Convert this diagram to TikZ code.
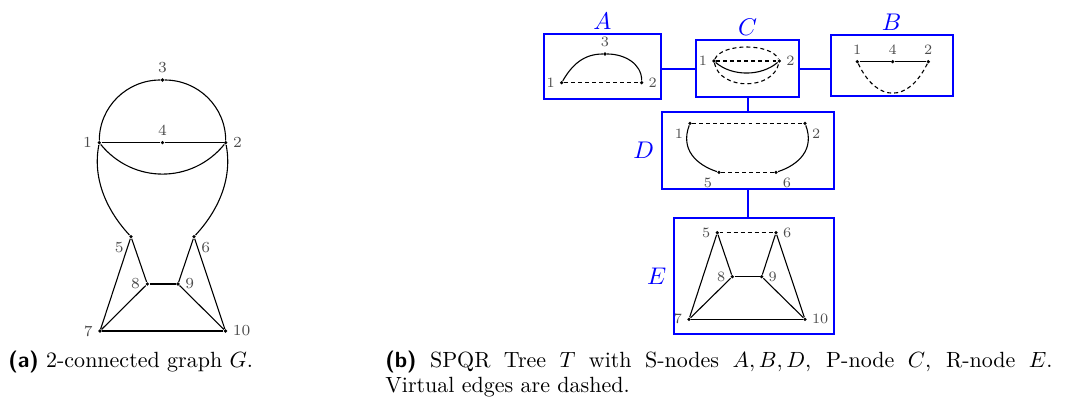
\documentclass[tikz,border=0pt]{standalone}
\usetikzlibrary{fit}
\begin{document}
\begin{tikzpicture}[x=0.4545pt,y=-0.4545pt,
  dot/.style={circle,fill=black,inner sep=0pt,minimum size=1.6pt},
  lbl/.style={text=black!70,font=\fontsize{7}{8}\selectfont,inner sep=2.2pt},
  lblr/.style={text=black!70,font=\fontsize{6.5}{8}\selectfont,inner sep=2pt},
  edge/.style={line width=0.5pt},
  virt/.style={line width=0.5pt,dash pattern=on 1.8pt off 1.4pt},
  box/.style={draw=blue,line width=1pt,inner sep=0pt},
  conn/.style={draw=blue,line width=1pt},
  blbl/.style={text=blue,font=\fontsize{11}{13}\selectfont,inner sep=1.5pt},
  blblside/.style={text=blue,font=\fontsize{11}{13}\selectfont,inner sep=2.8pt},
  captxt/.style={anchor=base west,inner sep=0pt,font=\fontsize{10}{12}\selectfont}
]
\useasboundingbox (0,0) rectangle (1070,397);

% ---------- (a) graph G ----------
\node[dot,label={[lbl]above:3}] (g3) at (162.5,80) {};
\node[dot,label={[lbl]left:1}] (g1) at (99.3,142.7) {};
\node[dot,label={[lbl]above:4}] (g4) at (162.5,142.7) {};
\node[dot,label={[lbl]right:2}] (g2) at (225.7,142.7) {};
\node[dot,label={[lbl]195:5}] (g5) at (131,236.7) {};
\node[dot,label={[lbl]-15:6}] (g6) at (194,236.7) {};
\node[dot,label={[lbl]left:8}] (g8) at (147.3,284) {};
\node[dot,label={[lbl]right:9}] (g9) at (178,284) {};
\node[dot,label={[lbl]left:7}] (g7) at (100,331) {};
\node[dot,label={[lbl]right:10}] (g10) at (225.5,331) {};

\draw[edge] (g1) to[out=90,in=180] (g3) to[out=0,in=90] (g2);
\draw[edge] (g1) -- (g4) -- (g2);
\draw[edge] (g1) .. controls (133,184) and (192,184) .. (g2);
\draw[edge] (g1) .. controls (92,180) and (108,212) .. (g5);
\draw[edge] (g2) .. controls (233,180) and (217,212) .. (g6);
\draw[edge] (g5) -- (g8);
\draw[edge] (g8) -- (g9);
\draw[edge] (g9) -- (g6);
\draw[edge] (g5) -- (g7);
\draw[edge] (g6) -- (g10);
\draw[edge] (g7) -- (g8);
\draw[edge] (g9) -- (g10);
\draw[edge] (g7) -- (g10);

% ---------- (b) SPQR tree ----------
\node[box,fit={(544,34.3) (660.7,99.3)},label={[blbl]above:$A$}] (A) {};
\node[box,fit={(696,40) (799.3,97.3)},label={[blbl]above:$C$}] (C) {};
\node[box,fit={(830.7,35) (952.7,96)},label={[blbl]above:$B$}] (B) {};
\node[box,fit={(661.7,111.7) (834.3,189)},label={[blblside]left:$D$}] (D) {};
\node[box,fit={(674,218.3) (834,334.3)},label={[blblside]left:$E$}] (E) {};

\draw[conn] (C.west) -- (C.west -| A.east);
\draw[conn] (C.east) -- (C.east -| B.west);
\draw[conn] (C.south) -- (C.south |- D.north);
\draw[conn] (D.south) -- (D.south |- E.north);

% A
\node[dot,label={[lblr]left:1}] (a1) at (561.7,82.7) {};
\node[dot,label={[lblr]above:3}] (a3) at (605,54) {};
\node[dot,label={[lblr]right:2}] (a2) at (641.7,82.7) {};
\draw[edge] (a1) to[out=60,in=180] (a3) to[out=0,in=90] (a2);
\draw[virt] (a1) -- (a2);

% C
\node[dot,label={[lblr]left:1}] (c1) at (714,61) {};
\node[dot,label={[lblr]right:2}] (c2) at (779.3,61) {};
\draw[virt] (c1) -- (c2);
\draw[virt] (c1) .. controls (722,43) and (771,43) .. (c2);
\draw[virt] (c1) .. controls (720,90.7) and (773,90.7) .. (c2);
\draw[edge] (c1) .. controls (732,76.6) and (761,76.6) .. (c2);

% B
\node[dot,label={[lblr]above:1}] (b1) at (857.3,61.7) {};
\node[dot,label={[lblr]above:4}] (b4) at (892.7,61.7) {};
\node[dot,label={[lblr]above:2}] (b2) at (928.3,61.7) {};
\draw[edge] (b1) -- (b4) -- (b2);
\draw[virt] (b1) .. controls (877,103) and (908,103) .. (b2);

% D
\node[dot,label={[lblr]190:1}] (d1) at (690,123.3) {};
\node[dot,label={[lblr]-10:2}] (d2) at (805,123.3) {};
\node[dot,label={[lblr]195:5}] (d5) at (719,172.3) {};
\node[dot,label={[lblr]-15:6}] (d6) at (776,172.3) {};
\draw[virt] (d1) -- (d2);
\draw[virt] (d5) -- (d6);
\draw[edge] (d1) .. controls (680,150) and (697,165) .. (d5);
\draw[edge] (d2) .. controls (815,150) and (798,165) .. (d6);

% E
\node[dot,label={[lblr]left:5}] (e5) at (717.3,232.7) {};
\node[dot,label={[lblr]right:6}] (e6) at (776,232.7) {};
\node[dot,label={[lblr]left:8}] (e8) at (732.3,276.7) {};
\node[dot,label={[lblr]right:9}] (e9) at (761.7,276.7) {};
\node[dot,label={[lblr]left:7}] (e7) at (689,319.3) {};
\node[dot,label={[lblr]right:10}] (e10) at (805,319.3) {};
\draw[virt] (e5) -- (e6);
\draw[edge] (e5) -- (e8);
\draw[edge] (e5) -- (e7);
\draw[edge] (e6) -- (e9);
\draw[edge] (e6) -- (e10);
\draw[edge] (e8) -- (e9);
\draw[edge] (e8) -- (e7);
\draw[edge] (e9) -- (e10);
\draw[edge] (e7) -- (e10);

% ---------- captions ----------
\node[captxt] (capa) at (8,368) {{\sffamily\bfseries (a)} 2-connected graph $G$.};
\node[captxt] (capb1) at (385,368) {\makebox[303.2pt][s]{{\sffamily\bfseries (b)} SPQR Tree $T$ with S-nodes $A,B,D$, P-node $C$, R-node $E$.}};
\node[captxt] (capb2) at (385,393) {Virtual edges are dashed.};
\end{tikzpicture}
\end{document}
